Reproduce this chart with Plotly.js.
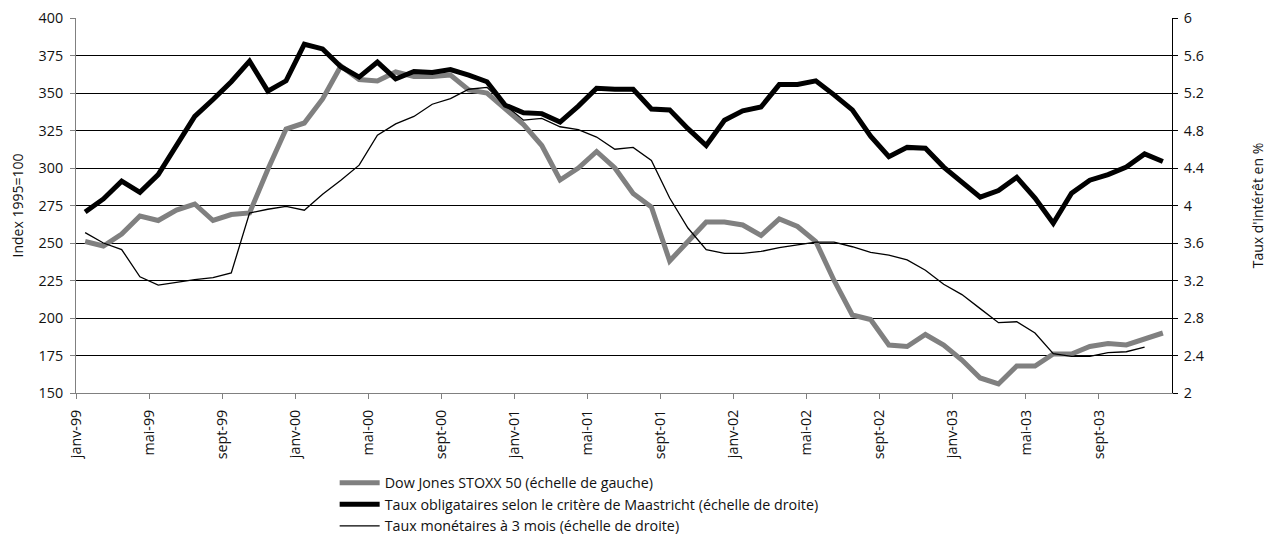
<!DOCTYPE html>
<html>
<head>
<meta charset="utf-8">
<script src="https://cdn.plot.ly/plotly-3.0.1.min.js"></script>
<style>html,body{margin:0;padding:0;background:#fff}#chart{width:1267px;height:541px}</style>
</head>
<body>
<div id="chart"></div>
<script>
// Months janv-99 .. déc-03
const months = ["janv-99","févr-99","mars-99","avr-99","mai-99","juin-99","juil-99","août-99","sept-99","oct-99","nov-99","déc-99",
"janv-00","févr-00","mars-00","avr-00","mai-00","juin-00","juil-00","août-00","sept-00","oct-00","nov-00","déc-00",
"janv-01","févr-01","mars-01","avr-01","mai-01","juin-01","juil-01","août-01","sept-01","oct-01","nov-01","déc-01",
"janv-02","févr-02","mars-02","avr-02","mai-02","juin-02","juil-02","août-02","sept-02","oct-02","nov-02","déc-02",
"janv-03","févr-03","mars-03","avr-03","mai-03","juin-03","juil-03","août-03","sept-03","oct-03","nov-03","déc-03"];

// Dow Jones STOXX 50 (left axis, index 1995=100)
const stoxx = [251,248,256,268,265,272,276,265,269,270,299,326,
330,346,368,359,358,364,361,361,362,352,350,340,
329,315,292,300,311,300,283,274,238,251,264,264,
262,255,266,261,251,225,202,199,182,181,189,182,
172,160,156,168,168,176,176,181,183,182,186,190];

// Taux obligataires (Maastricht), right axis, %
const bond = [3.93,4.07,4.26,4.14,4.33,4.63,4.95,5.13,5.32,5.54,5.22,5.33,
5.72,5.67,5.48,5.37,5.53,5.35,5.43,5.42,5.45,5.39,5.32,5.07,
4.99,4.98,4.89,5.06,5.25,5.24,5.24,5.03,5.02,4.82,4.64,4.91,
5.01,5.05,5.29,5.29,5.33,5.18,5.02,4.74,4.52,4.62,4.61,4.41,
4.25,4.09,4.16,4.30,4.08,3.81,4.13,4.27,4.33,4.41,4.55,4.47];

// Taux monétaires à 3 mois, right axis, % (ends nov-03)
const money = [3.71,3.60,3.53,3.24,3.15,3.18,3.21,3.23,3.28,3.92,3.96,3.99,
3.95,4.12,4.27,4.43,4.75,4.87,4.95,5.08,5.14,5.24,5.26,5.07,
4.91,4.93,4.84,4.81,4.73,4.60,4.62,4.48,4.08,3.76,3.53,3.49,
3.49,3.51,3.55,3.58,3.61,3.61,3.56,3.50,3.47,3.42,3.31,3.16,
3.05,2.90,2.75,2.76,2.64,2.42,2.39,2.39,2.43,2.44,2.49];

const seriesNames = ["Dow Jones STOXX 50 (échelle de gauche)",
"Taux obligataires selon le critère de Maastricht (échelle de droite)",
"Taux monétaires à 3 mois (échelle de droite)"];

const idx = months.map((m,i)=>i);
const tickIdx = idx.filter(i => i % 4 === 0);
const tickvals = tickIdx.map(i => i - 0.5);
const ticktext = tickIdx.map(i => months[i]);

const FONT = "Open Sans, Liberation Sans, sans-serif";
const FS = 14.3;

const traces = [
  {x: idx, y: stoxx, type:'scatter', mode:'lines', name: seriesNames[0], yaxis:'y',
   line:{color:'#808080', width:5}, legendgroup:'a'},
  {x: idx, y: bond, type:'scatter', mode:'lines', name: seriesNames[1], yaxis:'y2',
   line:{color:'#000000', width:5}, legendgroup:'b'},
  {x: idx.slice(0, money.length), y: money, type:'scatter', mode:'lines', name: seriesNames[2], yaxis:'y2',
   line:{color:'#000000', width:1.3}, legendgroup:'c'}
];

const layout = {
  width:1267, height:541,
  paper_bgcolor:'#fff', plot_bgcolor:'#fff',
  margin:{l:76, r:95, t:18, b:148},
  font:{family:FONT, size:FS, color:'#111'},
  showlegend:true,
  legend:{x:0.236, y:0.137, xref:'paper', yref:'container', xanchor:'left', yanchor:'top', orientation:'v',
          tracegroupgap:0, itemwidth:40, font:{family:FONT, size:FS, color:'#111'},
          bgcolor:'rgba(0,0,0,0)'},
  xaxis:{range:[-0.5, 59.5], tickvals:tickvals, ticktext:ticktext, tickangle:-90,
         ticks:'outside', ticklen:5, tickcolor:'#808080', showline:true, linecolor:'#808080',
         linewidth:1, showgrid:false, zeroline:false, automargin:false, ticklabelstandoff:5,
         tickfont:{family:FONT, size:FS, color:'#111'}},
  yaxis:{range:[150,400], dtick:25, tick0:150, ticks:'outside', ticklen:5, tickcolor:'#808080',
         showline:true, linecolor:'#808080', linewidth:1, showgrid:true, gridcolor:'#000', gridwidth:1,
         zeroline:false, automargin:false, ticklabelstandoff:4,
         title:{text:'Index 1995=100', standoff:11, font:{family:FONT, size:14, color:'#111'}},
         tickfont:{family:FONT, size:FS, color:'#111'}},
  yaxis2:{range:[2,6], dtick:0.4, tick0:2, overlaying:'y', side:'right', ticks:'outside', ticklen:5,
          tickcolor:'#000', showline:true, linecolor:'#000', linewidth:1, showgrid:false, zeroline:false,
          automargin:false, ticklabelstandoff:3,
          title:{text:"Taux d'intérêt en %", standoff:52, font:{family:FONT, size:14, color:'#111'}},
          tickfont:{family:FONT, size:FS, color:'#111'}}
};

Plotly.newPlot('chart', traces, layout, {staticPlot:true, displayModeBar:false});
</script>
</body>
</html>
